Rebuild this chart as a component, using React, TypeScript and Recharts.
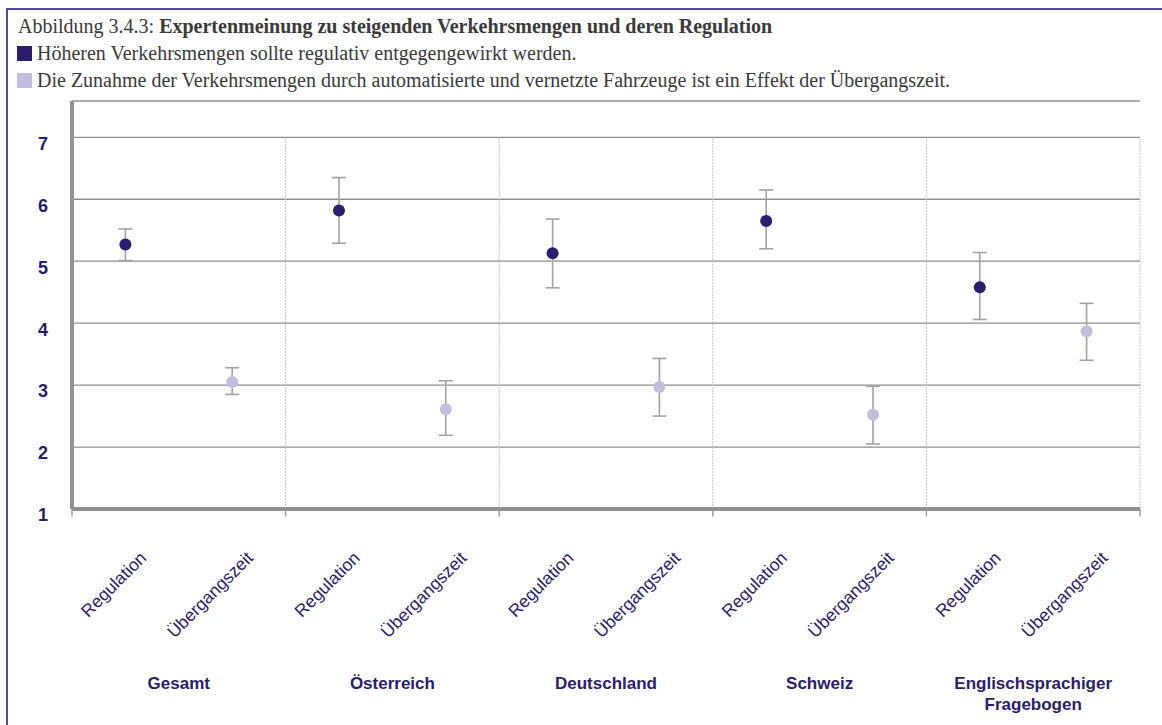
import React from "react";
import { ComposedChart, Line, ErrorBar, XAxis, YAxis, CartesianGrid, ReferenceLine } from "recharts";

const groups = ["Gesamt", "Österreich", "Deutschland", "Schweiz", "Englischsprachiger Fragebogen"];
const items = ["Regulation", "Übergangszeit"];

// Mittelwerte und Fehlergrenzen
const regMean = [5.27, 5.82, 5.13, 5.65, 4.58];
const regLow = [5.01, 5.29, 4.57, 5.2, 4.06];
const regHigh = [5.52, 6.35, 5.68, 6.15, 5.14];

const uebMean = [3.05, 2.61, 2.97, 2.52, 3.87];
const uebLow = [2.85, 2.19, 2.5, 2.05, 3.4];
const uebHigh = [3.28, 3.07, 3.43, 2.98, 4.32];

const yTicks = [1, 2, 3, 4, 5, 6, 7];

const NAVY = "#2b1d6b";
const LIGHT = "#c2bddd";
const GRID = "#8e8e8e";
const AXIS = "#929292";
const FRAME = "#54489a";

const rows = groups.flatMap((g, gi) =>
  items.map((it, ii) => ({
    key: `${gi}-${ii}`,
    group: g,
    item: it,
    reg: ii === 0 ? regMean[gi] : null,
    regErr: ii === 0 ? [regMean[gi] - regLow[gi], regHigh[gi] - regMean[gi]] : undefined,
    ueb: ii === 1 ? uebMean[gi] : null,
    uebErr: ii === 1 ? [uebMean[gi] - uebLow[gi], uebHigh[gi] - uebMean[gi]] : undefined,
  }))
);

// Gruppengrenzen: Anfang jeder Gruppe plus Ende der letzten
const firstKeys = rows.filter((r) => r.item === items[0]).map((r) => r.key);
const lastKey = rows[rows.length - 1].key;

const YTick = (props: any) => {
  const { x, y, payload } = props;
  return (
    <text x={x} y={y + 6} dy="0.355em" textAnchor="end" fill={NAVY}
      style={{ fontFamily: "Liberation Sans, Arial, sans-serif", fontSize: 18, fontWeight: 700 }}>
      {payload.value}
    </text>
  );
};

const XTick = (props: any) => {
  const { x, y, index, payload } = props;
  const row = rows[index];
  if (!row) return null;
  const ax = x + 22;
  const ay = y + 50;
  const half = payload && payload.offset ? payload.offset : 0;
  const lines = row.group.length > 14 ? row.group.split(" ") : [row.group];
  const gx = x + half;
  return (
    <g>
      <text x={ax} y={ay} textAnchor="end" transform={`rotate(-45 ${ax} ${ay})`} fill={NAVY}
        style={{ fontFamily: "Liberation Sans, Arial, sans-serif", fontSize: 17.5 }}>
        {row.item}
      </text>
      {row.item === items[0] && (
        <text x={gx} y={y + 180} textAnchor="middle" fill={NAVY}
          style={{ fontFamily: "Liberation Sans, Arial, sans-serif", fontSize: 17, fontWeight: 700 }}>
          {lines.map((l, i) => (
            <tspan key={i} x={gx} dy={i === 0 ? 0 : 20.5}>{l}</tspan>
          ))}
        </text>
      )}
    </g>
  );
};

export default function App() {
  return (
    <div style={{ position: "absolute", left: 0, top: 0, width: 1162, height: 725, background: "#fff", overflow: "hidden" }}>
      <div style={{ position: "absolute", left: 6, top: 8, width: 1156, height: 1.5, background: FRAME }} />
      <div style={{ position: "absolute", left: 6, top: 8, width: 1.5, height: 717, background: FRAME }} />
      <div style={{ position: "absolute", left: 18, top: 12.7, fontFamily: "Liberation Serif, 'Times New Roman', serif", fontSize: 20, color: "#3a3a3a", lineHeight: "27px", whiteSpace: "nowrap" }}>
        <div>Abbildung 3.4.3: <b>Expertenmeinung zu steigenden Verkehrsmengen und deren Regulation</b></div>
        <div style={{ display: "flex", alignItems: "center" }}>
          <span style={{ display: "inline-block", width: 15, height: 15, background: NAVY, marginRight: 5, marginLeft: -1 }} />
          Höheren Verkehrsmengen sollte regulativ entgegengewirkt werden.
        </div>
        <div style={{ display: "flex", alignItems: "center" }}>
          <span style={{ display: "inline-block", width: 15, height: 15, background: LIGHT, marginRight: 5, marginLeft: -1 }} />
          Die Zunahme der Verkehrsmengen durch automatisierte und vernetzte Fahrzeuge ist ein Effekt der Übergangszeit.
        </div>
      </div>
      <div style={{ position: "absolute", left: 0, top: 0 }}>
        <ComposedChart width={1162} height={725} data={rows} margin={{ top: 101, right: 22, bottom: 8, left: 12 }}>
          <CartesianGrid vertical={false} stroke={GRID} strokeWidth={1.3} />
          <YAxis domain={[1, 7.586]} ticks={yTicks} allowDataOverflow width={60} tickLine={false}
            axisLine={{ stroke: AXIS, strokeWidth: 4 }} tick={<YTick />} tickSize={0} tickMargin={24} interval={0} />
          <XAxis dataKey="key" type="category" scale="band" height={208}
            axisLine={{ stroke: AXIS, strokeWidth: 4 }} tickLine={false} tickSize={0} tickMargin={0}
            interval={0} tick={<XTick />} />
          {firstKeys.slice(1).map((k) => (
            <ReferenceLine key={`sep-${k}`} position="start" segment={[{ x: k, y: 1 }, { x: k, y: 7 }]}
              stroke="#c4c4c4" strokeDasharray="2 1" strokeWidth={1} ifOverflow="visible" />
          ))}
          <ReferenceLine position="end" segment={[{ x: lastKey, y: 1 }, { x: lastKey, y: 7 }]}
            stroke="#c4c4c4" strokeDasharray="2 1" strokeWidth={1} ifOverflow="visible" />
          {firstKeys.map((k) => (
            <ReferenceLine key={`tick-${k}`} position="start" segment={[{ x: k, y: 1 }, { x: k, y: 0.88 }]}
              stroke="#a0a0a0" strokeWidth={1.5} ifOverflow="visible" />
          ))}
          <ReferenceLine position="end" segment={[{ x: lastKey, y: 1 }, { x: lastKey, y: 0.88 }]}
            stroke="#a0a0a0" strokeWidth={1.5} ifOverflow="visible" />
          <Line dataKey="reg" stroke="none" isAnimationActive={false} activeDot={false}
            dot={{ r: 6, fill: NAVY, stroke: "none" }}>
            <ErrorBar dataKey="regErr" direction="y" width={7} stroke="#a3a3a3" strokeWidth={1.6} />
          </Line>
          <Line dataKey="ueb" stroke="none" isAnimationActive={false} activeDot={false}
            dot={{ r: 6, fill: LIGHT, stroke: "none" }}>
            <ErrorBar dataKey="uebErr" direction="y" width={7} stroke="#a3a3a3" strokeWidth={1.6} />
          </Line>
        </ComposedChart>
      </div>
    </div>
  );
}
